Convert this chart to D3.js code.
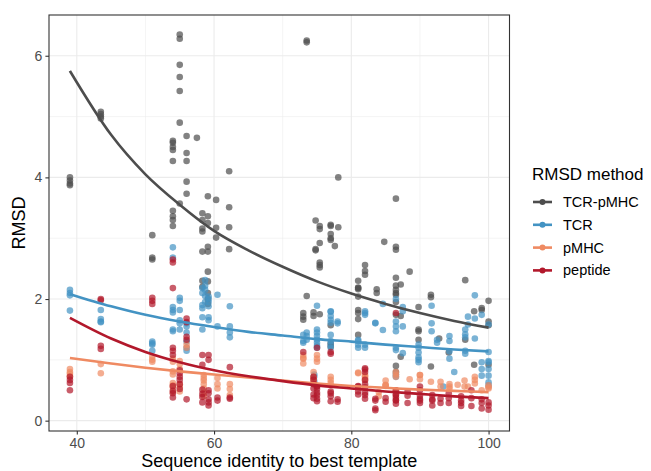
<!DOCTYPE html>
<html><head><meta charset="utf-8">
<script src="https://cdn.jsdelivr.net/npm/d3@7"></script>
<style>body{margin:0;background:#fff}svg{display:block;font-family:"Liberation Sans",Arial,sans-serif}</style>
</head><body><div id="chart"></div>
<script>
// ---------- data ----------
const seriesNames = ["TCR-pMHC", "TCR", "pMHC", "peptide"];
const seriesColors = ["#4d4d4d", "#4393c3", "#ef8a62", "#b2182b"];
const xTicks = [40, 60, 80, 100];
const yTicks = [0, 2, 4, 6];

// points grouped by sequence identity: [identity, [RMSD values]]
const tcrPmhcPts = [
  [39,[4.0,3.95,3.9,3.87]],[43.5,[5.08,5.04,5.0,4.97]],[51,[3.05,2.68,2.65]],
  [54,[4.6,4.57,4.5,4.45,4.27,3.45,3.36,3.3,3.2]],[55,[6.35,6.28,5.85,5.65,5.42,4.9,3.57]],
  [56,[4.68,4.4,4.27,3.93,3.73]],[57.5,[4.65]],[58.3,[3.41,3.3,3.16,3.11,2.78,2.3,2.2]],
  [59.1,[3.69,3.36,3.25,2.86,2.78,2.45,2.29,2.1,2.0,1.92]],[60.3,[3.63,3.17,3.01]],
  [62.2,[4.1,3.51,3.18,2.82]],[73,[1.77,1.71,1.66]],[73.5,[6.25,6.22,2.05]],[74.5,[1.78,1.72]],
  [74.8,[3.29,2.82,2.8]],[75.4,[3.2,3.15,2.92,2.6,2.56,2.52,1.75]],
  [77,[3.22,3.2,3.07,3.0,2.97,1.57,1.27,1.22]],[77.6,[2.87]],[78.1,[4.0,3.18]],
  [81,[2.3,2.19,2.18,2.16,2.04,1.82,1.77,1.67,1.41]],[82,[2.56,2.46,2.4]],[83.7,[2.16,2.1]],
  [84.8,[2.94]],[86.5,[3.65,2.86,2.81,2.35,2.22,2.1,2.15,2.07,1.95,1.74,0.9,0.8]],
  [87.2,[2.24,1.72,1.05]],[88.5,[2.45]],[89.8,[1.87,1.5,1.47,1.33]],[91.6,[2.07,2.03,0.89]],
  [92.8,[1.35]],[94.2,[1.12]],[96.6,[2.31,1.33]],[97.9,[1.8,0.92]],[99,[1.85,1.82]],
  [100,[1.97,1.63,1.57,0.92]]
];
const tcrPts = [
  [39,[2.15,2.1,2.06,1.81]],[43.5,[1.82,1.67,1.63,1.62]],[51,[1.3,1.27,1.25,1.15]],
  [54,[2.85,2.68,1.87,1.82,1.78,1.5,1.47]],[55,[2.02,1.97,1.82,1.65,1.6,1.5]],
  [56,[1.6,1.55,1.45,1.3,1.2,1.15]],[58.3,[2.18,2.1,1.9,1.85,1.7,1.5]],
  [58.7,[2.31,2.22,2.15,2.05,1.95]],[59.2,[2.04,2.0,1.88,1.95,1.7,1.65]],[60.5,[2.07,1.55]],
  [62.3,[1.88,1.55,1.45,1.37]],[73,[1.41,1.31,1.28]],[73.5,[1.45,1.39,1.33]],
  [74.6,[0.76,0.72,0.65]],[75,[1.89,1.5,1.45,1.39,1.33,1.28,1.23,1.2]],
  [77,[1.79,1.72,1.66,1.61,1.8,1.31,1.25,1.2,1.41]],[78,[1.63,1.6]],[81,[1.31,1.25,1.2,1.33]],
  [82,[1.8,1.74,1.77,1.25,1.2]],[83.5,[1.61,1.6]],[84.6,[1.92,1.49]],
  [86.5,[2.0,1.63,1.55,1.47,1.2,1.16,0.76,0.72]],[87.5,[1.87,1.8,1.55,1.11]],
  [89.8,[1.25,1.2,1.12,1.04,1.0,0.96]],[91.7,[1.89,1.6,1.47]],[92.5,[1.33,1.28]],
  [93.4,[0.56]],[94.3,[1.39,1.31,1.14,1.02]],[95,[0.8]],[96.6,[1.5,1.42,1.37,1.15,1.1]],
  [97,[1.71,1.58]],[98,[2.06,1.68,1.35]],[99,[1.74,0.96,0.85,0.74]],
  [100,[1.58,1.13,0.98,0.96,0.85,0.74,0.63,0.58]]
];
const pmhcPts = [
  [39,[0.85,0.8,0.77,0.73]],[43.5,[0.93,0.78]],[51,[1.05,1.0,0.97]],
  [54,[1.02,0.97,0.81,0.76,0.62,0.58,0.55,0.47]],[55,[0.98,0.93,0.85,0.6,0.55,0.48]],
  [56,[1.25,1.2]],[58.5,[0.75,0.7,0.66,0.6,0.53,0.45,0.4]],[60.5,[0.7,0.6,0.53]],
  [62.3,[0.6,0.52,0.42]],[73,[1.08,1.02,1.03,0.94]],[74.5,[0.8,0.72,0.69,0.67,0.61]],
  [75,[1.08,1.02,0.97]],[77,[0.72,0.67,0.62]],[81,[0.79,0.78]],[82,[0.75,0.7,0.73,0.67]],
  [84,[0.4,0.47]],[85,[0.66,0.58,0.59,0.57]],[86.5,[0.8,0.76,0.72,0.5]],[88.5,[0.68]],
  [90,[0.75,0.75,0.68]],[91.6,[0.64]],[93,[0.64,0.56]],[94.3,[0.6,0.56,0.53]],[95.5,[0.59]],
  [96.5,[0.66,0.56]],[97,[0.56]],[98,[0.72,0.67,0.61]],[99,[0.5]],[100,[0.58,0.55,0.53]]
];
const peptidePts = [
  [39,[0.72,0.67,0.62,0.5]],[43.5,[2.0,1.98,1.23,1.18]],[51,[2.02,1.97,1.92]],
  [54,[2.65,2.6,2.18,1.2,1.15,1.08,0.57,0.49,0.45,0.38]],[55,[0.83,0.78,0.72,0.67,0.6,0.52]],
  [56,[1.68,1.62,1.38,1.33,0.35]],[58.3,[1.08,0.92,0.51,0.44,0.39,0.3]],
  [59.2,[1.08,1.0,0.5,0.35,0.3,0.25,0.45]],[60.5,[0.38,0.33]],[62.3,[0.88,0.38,0.36]],
  [73,[1.13]],[74.5,[0.72,0.67,0.6,0.53,0.43,0.37]],[75,[1.2,0.57,0.52,0.46,0.42,0.56,0.36,0.32]],
  [77,[1.13,1.1,0.48,0.45,0.4,0.32]],[78,[0.35,0.31]],[81,[0.57,0.48,0.43,0.56]],
  [82,[0.84,0.8,0.6,0.55,0.86,0.67,0.42,0.46,0.36]],[83.5,[0.36,0.33,0.2,0.17]],[85,[0.37,0.31]],
  [86.5,[1.77,0.42,0.34,0.33,0.28,0.5,0.43,0.38]],[88.2,[0.48,0.41,0.29]],
  [90,[0.56,0.5,0.41,0.36,0.33,0.29]],[91.8,[0.42,0.35,0.33,0.25]],[93,[0.36,0.29]],
  [94.2,[0.45,0.37,0.29]],[96,[0.4,0.33,0.29,0.24]],[97.5,[0.5,0.37,0.24]],[99,[0.29,0.2,0.35]],
  [100,[0.18,0.25,0.3]]
];

// fitted trend curves
const fitX       = [39, 45, 50, 55, 60, 65, 70, 75, 80, 85, 90, 95, 100];
const tcrPmhcFit = [5.75,4.70,4.05,3.55,3.12,2.80,2.53,2.29,2.09,1.92,1.77,1.64,1.53];
const tcrFit     = [2.08,1.88,1.74,1.63,1.54,1.46,1.40,1.34,1.30,1.25,1.21,1.17,1.14];
const pmhcFit    = [1.03,0.94,0.87,0.81,0.76,0.71,0.66,0.61,0.57,0.54,0.51,0.49,0.47];
const peptideFit = [1.69,1.35,1.13,0.96,0.83,0.73,0.65,0.58,0.53,0.48,0.44,0.40,0.37];

// ---------- chart ----------
const W = 651, H = 471;
const P = {l: 49, r: 509.5, t: 15, b: 431};
const svg = d3.select("#chart").append("svg").attr("width", W).attr("height", H);
const x = d3.scaleLinear().domain([35.95, 103.05]).range([P.l, P.r]);
const y = d3.scaleLinear().domain([-0.17, 6.67]).range([P.b, P.t]);

// grid
const g = svg.append("g");
[50, 70, 90].forEach(v => g.append("line").attr("x1", x(v)).attr("x2", x(v)).attr("y1", P.t).attr("y2", P.b).attr("stroke", "#ebebeb").attr("stroke-width", 0.55));
[1, 3, 5].forEach(v => g.append("line").attr("y1", y(v)).attr("y2", y(v)).attr("x1", P.l).attr("x2", P.r).attr("stroke", "#ebebeb").attr("stroke-width", 0.55));
xTicks.forEach(v => g.append("line").attr("x1", x(v)).attr("x2", x(v)).attr("y1", P.t).attr("y2", P.b).attr("stroke", "#ebebeb").attr("stroke-width", 1.1));
yTicks.forEach(v => g.append("line").attr("y1", y(v)).attr("y2", y(v)).attr("x1", P.l).attr("x2", P.r).attr("stroke", "#ebebeb").attr("stroke-width", 1.1));

// points
const allPts = [tcrPmhcPts, tcrPts, pmhcPts, peptidePts];
const pg = svg.append("g");
allPts.forEach((grp, i) => {
  const flat = grp.flatMap(([xi, ys]) => ys.map(v => [xi, v]));
  pg.selectAll(null).data(flat).join("circle")
    .attr("cx", d => x(d[0])).attr("cy", d => y(d[1])).attr("r", 3.3)
    .attr("fill", seriesColors[i]).attr("fill-opacity", 0.7);
});

// fit lines
const fits = [tcrPmhcFit, tcrFit, pmhcFit, peptideFit];
const line = d3.line().x(d => x(d[0])).y(d => y(d[1])).curve(d3.curveMonotoneX);
fits.forEach((f, i) => {
  svg.append("path").datum(fitX.map((xv, k) => [xv, f[k]])).attr("d", line)
    .attr("fill", "none").attr("stroke", seriesColors[i]).attr("stroke-width", 2.6);
});

// border
svg.append("rect").attr("x", P.l).attr("y", P.t).attr("width", P.r - P.l).attr("height", P.b - P.t)
  .attr("fill", "none").attr("stroke", "#333333").attr("stroke-width", 1.1);

// axes
const xAxis = svg.append("g").attr("transform", `translate(0,${P.b})`)
  .call(d3.axisBottom(x).tickValues(xTicks).tickFormat(d3.format("d")).tickSize(3.6).tickPadding(3));
const yAxis = svg.append("g").attr("transform", `translate(${P.l},0)`)
  .call(d3.axisLeft(y).tickValues(yTicks).tickFormat(d3.format("d")).tickSize(3.6).tickPadding(3));
[xAxis, yAxis].forEach(a => {
  a.select(".domain").remove();
  a.selectAll(".tick line").attr("stroke", "#333333").attr("stroke-width", 1.1);
  a.selectAll(".tick text").attr("fill", "#4d4d4d").style("font-size", "14px")
   .style("font-family", "Liberation Sans, Arial, sans-serif");
});

// axis titles
svg.append("text").attr("x", (P.l + P.r) / 2).attr("y", 467).attr("text-anchor", "middle")
  .style("font-size", "18px").attr("fill", "#000").text("Sequence identity to best template");
svg.append("text").attr("transform", `translate(25,${(P.t + P.b) / 2}) rotate(-90)`)
  .attr("text-anchor", "middle").style("font-size", "18px").attr("fill", "#000").text("RMSD");

// legend
const lg = svg.append("g");
lg.append("text").attr("x", 532).attr("y", 180).style("font-size", "17px").attr("fill", "#000").text("RMSD method");
seriesNames.forEach((n, i) => {
  const yy = 202 + i * 22.8;
  lg.append("line").attr("x1", 533).attr("x2", 552).attr("y1", yy).attr("y2", yy)
    .attr("stroke", seriesColors[i]).attr("stroke-width", 2.6);
  lg.append("circle").attr("cx", 542.5).attr("cy", yy).attr("r", 3).attr("fill", seriesColors[i]);
  lg.append("text").attr("x", 563).attr("y", yy + 5).style("font-size", "14.5px").attr("fill", "#000").text(n);
});
</script>
</body></html>
